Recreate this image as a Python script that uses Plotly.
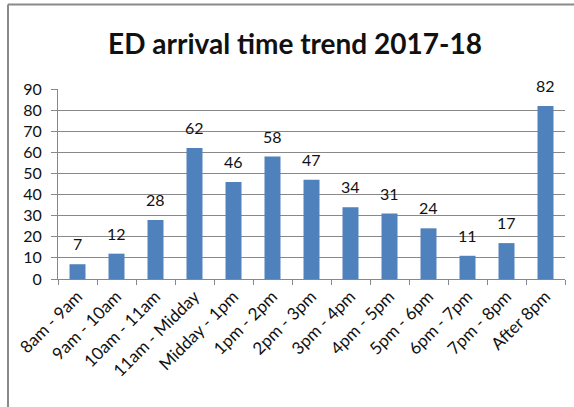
import plotly.graph_objects as go

categories = ["8am - 9am", "9am - 10am", "10am - 11am", "11am - Midday", "Midday - 1pm",
              "1pm - 2pm", "2pm - 3pm", "3pm - 4pm", "4pm - 5pm", "5pm - 6pm",
              "6pm - 7pm", "7pm - 8pm", "After 8pm"]
values = [7, 12, 28, 62, 46, 58, 47, 34, 31, 24, 11, 17, 82]
y_ticks = [0, 10, 20, 30, 40, 50, 60, 70, 80, 90]

FONT = "Lato, Open Sans, sans-serif"
GRID = "#888888"
TXT = "#111111"

fig = go.Figure(go.Bar(
    x=categories, y=values,
    marker=dict(color="#4F81BD", line=dict(width=0)),
))

annotations = [
    dict(x=c, y=v, xref="x", yref="y", text=str(v), showarrow=False,
         yanchor="bottom", yshift=9, font=dict(family=FONT, size=16, color=TXT))
    for c, v in zip(categories, values)
]

W, H = 574, 407
L, R, T, B = 58, 9, 89, 128
pw, ph = W - L - R, H - T - B
bx = (8 - L) / pw
by = 1 + (T - 4.5) / ph

fig.update_layout(
    width=W, height=H,
    margin=dict(l=L, r=R, t=T, b=B),
    paper_bgcolor="white", plot_bgcolor="white",
    bargap=0.59,
    showlegend=False,
    annotations=annotations,
    title=dict(text="<b>ED arrival time trend 2017-18</b>", xref="paper",
               x=(295 - L) / pw, xanchor="center",
               y=1 - 44 / H, yanchor="middle",
               font=dict(family=FONT, size=28, color=TXT)),
    xaxis=dict(showgrid=False, showline=True, linecolor=GRID, linewidth=1,
               ticks="outside", tickson="boundaries", ticklen=5, tickcolor=GRID,
               tickangle=-45, tickfont=dict(family=FONT, size=17, color=TXT)),
    yaxis=dict(range=[0, 90], tickvals=y_ticks, showgrid=True, gridcolor=GRID, gridwidth=1,
               showline=True, linecolor=GRID, linewidth=1, zeroline=False,
               ticks="outside", ticklen=6, tickcolor=GRID, ticklabelstandoff=6,
               tickfont=dict(family=FONT, size=16, color=TXT)),
    shapes=[
        dict(type="line", xref="paper", yref="paper", x0=bx, x1=bx, y0=-2, y1=by,
             line=dict(color="#8a8a8a", width=2)),
        dict(type="line", xref="paper", yref="paper", x0=bx, x1=2, y0=by, y1=by,
             line=dict(color="#8a8a8a", width=2)),
    ],
)

fig.write_html("out.html")
